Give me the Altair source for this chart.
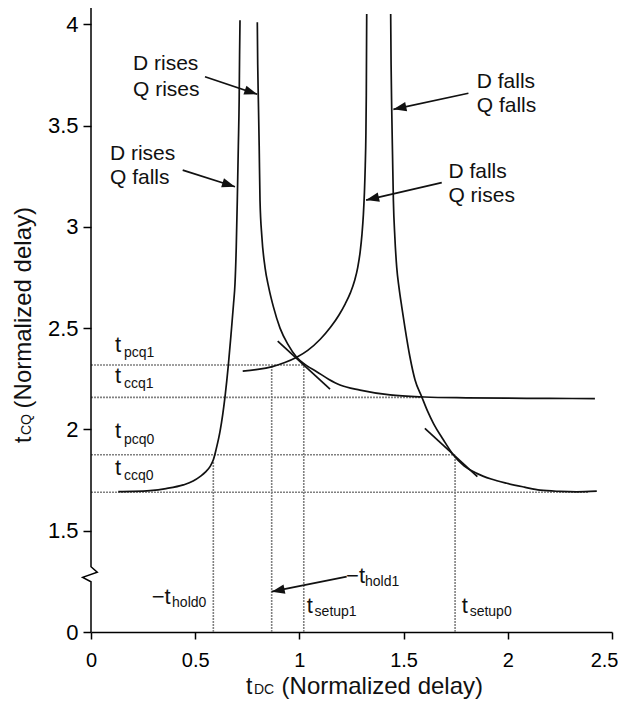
import math
import altair as alt
import pandas as pd

# ---------------- axes (broken y axis: position 1.0 stands for the value 0) ----------------
X_DOMAIN = [0.0, 2.5]
Y_DOMAIN = [1.0, 4.08]
X_TICKS = [0, 0.5, 1, 1.5, 2, 2.5]
X_TICK_LABELS = ["0", "0.5", "1", "1.5", "2", "2.5"]
Y_TICKS = [1.0, 1.5, 2.0, 2.5, 3.0, 3.5, 4.0]
Y_TICK_LABELS = ["0", "1.5", "2", "2.5", "3", "3.5", "4"]
Y_ZERO = 1.0  # where "0" sits on the broken axis

# ---------------- curves ----------------
rise_fall_x = [0.131, 0.20, 0.283, 0.36, 0.443, 0.49, 0.523, 0.550, 0.571, 0.587, 0.600, 0.620,
               0.643, 0.659, 0.672, 0.684, 0.691, 0.697, 0.702, 0.707, 0.711, 0.713, 0.715]
rise_fall_y = [1.693, 1.694, 1.698, 1.708, 1.726, 1.745, 1.767, 1.790, 1.816, 1.850, 1.900, 1.995,
               2.161, 2.317, 2.47, 2.62, 2.72, 2.90, 3.13, 3.40, 3.63, 3.85, 4.02]

rise_rise_x = [0.798, 0.800, 0.803, 0.807, 0.811, 0.820, 0.835, 0.853, 0.875, 0.907, 0.945, 0.987,
               1.035, 1.083, 1.140, 1.195, 1.291, 1.435, 1.60, 1.80, 2.00, 2.20, 2.418]
rise_rise_y = [4.01, 3.80, 3.63, 3.40, 3.13, 2.95, 2.80, 2.70, 2.606, 2.50, 2.42, 2.356,
               2.315, 2.285, 2.248, 2.219, 2.194, 2.170, 2.160, 2.156, 2.154, 2.153, 2.152]

fall_rise_x = [0.728, 0.80, 0.87, 0.93, 0.987, 1.04, 1.10, 1.15, 1.19, 1.22, 1.245, 1.265,
               1.28, 1.292, 1.30, 1.307, 1.312, 1.316, 1.319, 1.321, 1.323]
fall_rise_y = [2.288, 2.296, 2.31, 2.33, 2.356, 2.39, 2.445, 2.505, 2.565, 2.62, 2.675, 2.735,
               2.80, 2.88, 2.96, 3.06, 3.17, 3.30, 3.45, 3.65, 4.05]

fall_fall_x = [1.438, 1.440, 1.443, 1.447, 1.451, 1.458, 1.467, 1.478, 1.491, 1.507, 1.530, 1.555,
               1.587, 1.615, 1.643, 1.690, 1.739, 1.790, 1.851, 1.920, 1.995, 2.080, 2.155, 2.250,
               2.330, 2.427]
fall_fall_y = [4.05, 3.80, 3.58, 3.35, 3.13, 2.95, 2.80, 2.70, 2.606, 2.499, 2.36, 2.244,
               2.161, 2.09, 2.03, 1.95, 1.874, 1.82, 1.783, 1.755, 1.734, 1.715, 1.70, 1.694,
               1.692, 1.695]

# ---------------- dotted reference lines ----------------
h_ref_y = [2.318, 2.158, 1.875, 1.690]      # t_pcq1, t_ccq1, t_pcq0, t_ccq0
h_ref_x_end = [1.02, 1.59, 1.745, 2.39]
v_ref_x = [0.587, 0.867, 1.021, 1.747]      # -t_hold0, -t_hold1, t_setup1, t_setup0
v_ref_y_end = [1.84, 2.318, 2.33, 1.875]

# tangent segments
tan_x1 = [0.896, 1.602]
tan_y1 = [2.436, 2.005]
tan_x2 = [1.147, 1.854]
tan_y2 = [2.199, 1.767]

# arrows (tail -> head)
arr_x1 = [0.547, 0.440, 1.811, 1.683, 1.227]
arr_y1 = [3.741, 3.280, 3.659, 3.218, 1.273]
arr_x2 = [0.798, 0.691, 1.451, 1.320, 0.867]
arr_y2 = [3.654, 3.198, 3.580, 3.132, 1.199]

# annotation texts
note_text = ["D rises", "Q rises", "D rises", "Q falls", "D falls", "Q falls", "D falls", "Q rises"]
note_x = [0.2015, 0.2015, 0.091, 0.091, 1.851, 1.851, 1.715, 1.715]
note_y = [3.774, 3.646, 3.330, 3.211, 3.685, 3.567, 3.239, 3.122]

# labels with subscripts: main part, subscript
lab_main = ["t", "t", "t", "t", "\u2212t", "\u2212t", "t", "t"]
lab_sub = ["pcq1", "ccq1", "pcq0", "ccq0", "hold0", "hold1", "setup1", "setup0"]
lab_main_x = [0.1152, 0.1152, 0.1152, 0.1152, 0.291, 1.224, 1.035, 1.779]
lab_main_y = [2.382, 2.229, 1.958, 1.775, 1.138, 1.242, 1.094, 1.094]
lab_sub_x = [0.1583, 0.1583, 0.1583, 0.1583, 0.389, 1.315, 1.073, 1.817]
lab_sub_y = [2.355, 2.202, 1.930, 1.748, 1.123, 1.227, 1.079, 1.079]

# ---------------- layout ----------------
W, H = 521, 624
PX_X = W / (X_DOMAIN[1] - X_DOMAIN[0])
PX_Y = H / (Y_DOMAIN[1] - Y_DOMAIN[0])
FONT = "Liberation Sans"


def label_expr(values, labels):
    expr = "''"
    for v, l in reversed(list(zip(values, labels))):
        expr = f"(abs(datum.value - {v}) < 1e-6 ? '{l}' : {expr})"
    return expr


xs = alt.Scale(domain=X_DOMAIN, nice=False, zero=False)
ys = alt.Scale(domain=Y_DOMAIN, nice=False, zero=False)
x_axis = alt.Axis(values=X_TICKS, labelExpr=label_expr(X_TICKS, X_TICK_LABELS), title=None,
                  grid=False, domain=True, domainColor="black", domainWidth=1.5,
                  ticks=True, tickColor="black", tickSize=7, tickWidth=1.5,
                  labelFont=FONT, labelFontSize=20, labelColor="black", labelPadding=11,
                  labelAlign={"condition": {"test": "datum.value == 2.5", "value": "right"},
                              "value": "center"},
                  labelOffset={"condition": {"test": "datum.value == 2.5", "value": 6},
                               "value": 0})
y_axis = alt.Axis(values=Y_TICKS, labelExpr=label_expr(Y_TICKS, Y_TICK_LABELS), title=None,
                  grid=False, domain=False, ticks=True, tickColor="black", tickSize=8,
                  tickWidth=1.5, labelFont=FONT, labelFontSize=22, labelColor="black",
                  labelPadding=5)


def X(f="x"):
    return alt.X(f, type="quantitative", scale=xs, axis=x_axis)


def Y(f="y"):
    return alt.Y(f, type="quantitative", scale=ys, axis=y_axis)


# curves table
rows = []
for name, cx, cy in [("D rises, Q falls", rise_fall_x, rise_fall_y),
                     ("D rises, Q rises", rise_rise_x, rise_rise_y),
                     ("D falls, Q rises", fall_rise_x, fall_rise_y),
                     ("D falls, Q falls", fall_fall_x, fall_fall_y)]:
    for i, (a, b) in enumerate(zip(cx, cy)):
        rows.append({"curve": name, "x": a, "y": b, "i": i})
curves_df = pd.DataFrame(rows)

curves = alt.Chart(curves_df).mark_line(color="#111111", strokeWidth=1.7,
                                        interpolate="monotone").encode(
    x=X(), y=Y(), detail="curve:N", order="i:Q")

# y axis line with break zigzag
axis_df = pd.DataFrame({"x": [0, 0, -0.040, 0.030, 0, 0],
                        "y": [Y_ZERO, 1.248, 1.270, 1.295, 1.322, Y_DOMAIN[1]],
                        "i": list(range(6))})
y_line = alt.Chart(axis_df).mark_line(color="black", strokeWidth=1.5).encode(
    x=X(), y=Y(), order="i:Q")

dotted = dict(color="#808080", strokeWidth=1.6, strokeDash=[2, 1])
h_df = pd.DataFrame({"x": [0.0] * len(h_ref_y), "x2": h_ref_x_end, "y": h_ref_y})
h_lines = alt.Chart(h_df).mark_rule(**dotted).encode(x=X(), x2="x2", y=Y())
v_df = pd.DataFrame({"x": v_ref_x, "y": [Y_ZERO] * len(v_ref_x), "y2": v_ref_y_end})
v_lines = alt.Chart(v_df).mark_rule(**dotted).encode(x=X(), y=Y(), y2="y2")

tan_df = pd.DataFrame({"x": tan_x1, "y": tan_y1, "x2": tan_x2, "y2": tan_y2})
tangents = alt.Chart(tan_df).mark_rule(color="#111111", strokeWidth=1.7).encode(
    x=X(), y=Y(), x2="x2", y2="y2")

ang = []
for a1, b1, a2, b2 in zip(arr_x1, arr_y1, arr_x2, arr_y2):
    dx = (a2 - a1) * PX_X
    dy = -(b2 - b1) * PX_Y
    ang.append(math.degrees(math.atan2(dy, dx)) % 360)
arr_df = pd.DataFrame({"x": arr_x1, "y": arr_y1, "x2": arr_x2, "y2": arr_y2, "angle": ang})
arr_lines = alt.Chart(arr_df).mark_rule(color="#111111", strokeWidth=1.7).encode(
    x=X(), y=Y(), x2="x2", y2="y2")
arr_heads = alt.Chart(arr_df).mark_point(
    shape="M0,0L-1,-0.36L-1,0.36Z", filled=True, color="#111111", opacity=1, size=680,
    strokeWidth=0).encode(x=X("x2"), y=Y("y2"), angle=alt.Angle("angle:Q", scale=None))


def text_layer(df, align="left", font=FONT, angle=0):
    return alt.Chart(df).mark_text(align=align, baseline="alphabetic", font=font,
                                   color="#111111", angle=angle).encode(
        x=X(), y=Y(), text="text:N", size=alt.Size("size:Q", scale=None, legend=None))


notes_df = pd.DataFrame({"x": note_x, "y": note_y, "text": note_text, "size": [21] * len(note_x)})
main_df = pd.DataFrame({"x": lab_main_x, "y": lab_main_y, "text": lab_main,
                        "size": [22] * len(lab_main)})
sub_df = pd.DataFrame({"x": lab_sub_x, "y": lab_sub_y, "text": lab_sub,
                       "size": [14] * len(lab_sub)})


def px2x(p):
    return (p - 91) / PX_X


def py2y(p):
    return Y_ZERO + (632 - p) / PX_Y


# axis titles (t with small-caps style suffix), written as text marks
xt_left = pd.DataFrame({"x": [px2x(246), px2x(254)], "y": [py2y(694), py2y(694)],
                        "text": ["t", "DC"], "size": [23, 14]})
xt_right = pd.DataFrame({"x": [px2x(483)], "y": [py2y(694)],
                         "text": ["(Normalized delay)"], "size": [24]})
yt_left = pd.DataFrame({"x": [px2x(31), px2x(31)], "y": [py2y(443), py2y(435)],
                        "text": ["t", "CQ"], "size": [23, 14]})
yt_right = pd.DataFrame({"x": [px2x(31)], "y": [py2y(207)],
                         "text": ["(Normalized delay)"], "size": [24]})

chart = alt.layer(
    h_lines, v_lines, y_line, curves, tangents, arr_lines, arr_heads,
    text_layer(notes_df), text_layer(main_df), text_layer(sub_df),
    text_layer(xt_left), text_layer(xt_right, align="right"),
    text_layer(yt_left, angle=270),
    text_layer(yt_right, align="right", angle=270),
).properties(
    width=W, height=H,
    autosize=alt.AutoSizeParams(type="none"),
    padding={"left": 83, "top": 0, "right": 6, "bottom": 67},
    background="white",
).configure_view(stroke=None)

chart.save("out.html", embed_options={"renderer": "svg", "actions": False})
